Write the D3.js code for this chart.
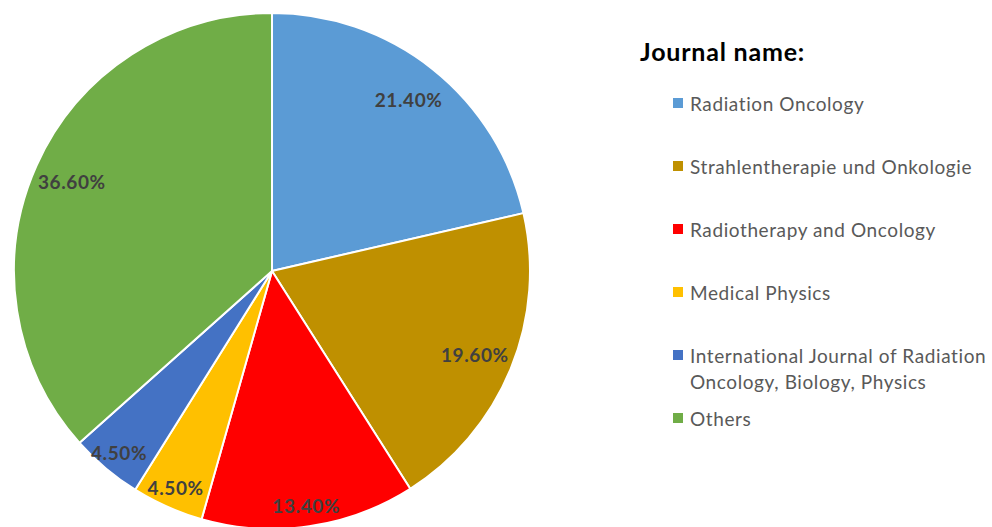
<!DOCTYPE html>
<html>
<head>
<meta charset="utf-8">
<script src="https://cdn.jsdelivr.net/npm/d3@7"></script>
<style>
  body { margin: 0; background: #fff; }
  svg { display: block; }
</style>
</head>
<body>
<svg id="chart" width="992" height="527"></svg>
<script>
// journal names, in clockwise order from 12 o'clock
const journals = [
  "Radiation Oncology",
  "Strahlentherapie und Onkologie",
  "Radiotherapy and Oncology",
  "Medical Physics",
  "International Journal of Radiation Oncology, Biology, Physics",
  "Others"
];
// share of each journal (%)
const shares = [21.4, 19.6, 13.4, 4.5, 4.5, 36.6];
// slice colours
const colours = ["#5B9BD5", "#BF9000", "#FF0000", "#FFC000", "#4472C4", "#70AD47"];
// legend lines (long name is wrapped like the original)
const legendLines = [
  ["Radiation Oncology"],
  ["Strahlentherapie und Onkologie"],
  ["Radiotherapy and Oncology"],
  ["Medical Physics"],
  ["International Journal of Radiation", "Oncology, Biology, Physics"],
  ["Others"]
];

const svg = d3.select("#chart");
const font = "Lato, 'Open Sans', sans-serif";

// pie centre and radius
const cx = 272, cy = 271, R = 258;

const data = journals.map((name, i) => ({ name, value: shares[i], colour: colours[i] }));

const pie = d3.pie()
  .value(d => d.value)
  .sort(null);

const arc = d3.arc().innerRadius(0).outerRadius(R);
// labels sit further out for the thin slices
const bigLabelArc = d3.arc().innerRadius(R * 0.85).outerRadius(R * 0.85);
const smallLabelArc = d3.arc().innerRadius(R * 0.92).outerRadius(R * 0.92);

const g = svg.append("g")
  .attr("transform", `translate(${cx},${cy})`);

const arcs = pie(data);

g.selectAll("path")
  .data(arcs)
  .enter()
  .append("path")
  .attr("d", arc)
  .attr("fill", d => d.data.colour)
  .attr("stroke", "#fff")
  .attr("stroke-width", 2)
  .attr("stroke-linejoin", "round");

// percentage labels
g.selectAll("text.pct")
  .data(arcs)
  .enter()
  .append("text")
  .attr("class", "pct")
  .attr("transform", d => {
    const c = (d.data.value < 15 ? smallLabelArc : bigLabelArc).centroid(d);
    return `translate(${c[0]},${c[1]})`;
  })
  .attr("text-anchor", "middle")
  .attr("dominant-baseline", "central")
  .attr("font-family", font)
  .attr("font-weight", 700)
  .attr("font-size", "19px")
  .attr("letter-spacing", "0.6px")
  .attr("fill", "#404040")
  .text(d => d.data.value.toFixed(2) + "%");

// legend
svg.append("text")
  .attr("x", 640)
  .attr("y", 61)
  .attr("font-family", font)
  .attr("font-weight", 700)
  .attr("font-size", "25px")
  .attr("letter-spacing", "0.8px")
  .attr("fill", "#000")
  .text("Journal name:");

const legendY = d3.scalePoint()
  .domain(journals)
  .range([103, 418]);

const item = svg.append("g")
  .selectAll("g")
  .data(data)
  .enter()
  .append("g")
  .attr("transform", d => `translate(673,${legendY(d.name)})`);

item.append("rect")
  .attr("x", 0)
  .attr("y", -5)
  .attr("width", 10)
  .attr("height", 10)
  .attr("fill", d => d.colour);

item.append("text")
  .attr("x", 17)
  .attr("y", 0)
  .attr("dominant-baseline", "central")
  .attr("font-family", font)
  .attr("font-size", "19px")
  .attr("letter-spacing", "0.6px")
  .attr("fill", "#595959")
  .each(function(d, i) {
    const t = d3.select(this);
    legendLines[i].forEach((line, j) => {
      t.append("tspan")
        .attr("x", 17)
        .attr("dy", j === 0 ? 0 : 26)
        .text(line);
    });
  });
</script>
</body>
</html>
